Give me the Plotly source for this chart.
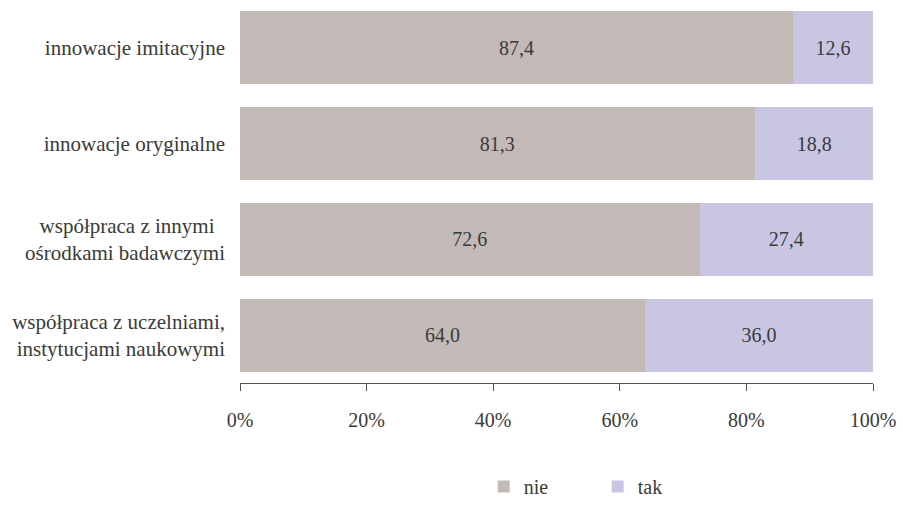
import plotly.graph_objects as go

categories = [
    "współpraca z uczelniami,<br>instytucjami naukowymi",
    "współpraca z innymi\u00a0\u00a0<br>ośrodkami badawczymi",
    "innowacje oryginalne",
    "innowacje imitacyjne",
]
nie_values = [64.0, 72.6, 81.3, 87.4]
tak_values = [36.0, 27.4, 18.8, 12.6]
tick_values = [0, 20, 40, 60, 80, 100]
tick_labels = ["0%", "20%", "40%", "60%", "80%", "100%"]

FONT = "Liberation Serif"
CAT_SIZE = 21
NUM_SIZE = 20
TEXT = "#3a3a3a"


def fmt(v):
    return f"{v:.1f}".replace(".", ",")


fig = go.Figure()
fig.add_trace(go.Bar(
    name="nie", y=categories, x=nie_values, orientation="h",
    marker=dict(color="#C3B9B6", line=dict(width=0)),
    text=[fmt(v) for v in nie_values], textposition="inside",
    insidetextanchor="middle", textfont=dict(family=FONT, size=NUM_SIZE, color=TEXT),
    hoverinfo="skip",
))
fig.add_trace(go.Bar(
    name="tak", y=categories, x=tak_values, orientation="h",
    marker=dict(color="#C8C6E3", line=dict(width=0)),
    text=[fmt(v) for v in tak_values], textposition="inside",
    insidetextanchor="middle", textfont=dict(family=FONT, size=NUM_SIZE, color=TEXT),
    hoverinfo="skip",
))

fig.update_layout(
    width=903, height=506,
    barmode="stack", bargap=0.238,
    margin=dict(l=240, r=30, t=0, b=123),
    paper_bgcolor="white", plot_bgcolor="white",
    font=dict(family=FONT, size=CAT_SIZE, color=TEXT),
    uniformtext=dict(mode="show", minsize=NUM_SIZE),
    showlegend=True,
    legend=dict(
        orientation="h", x=0.385, xanchor="left",
        yref="container", y=-0.012, yanchor="bottom",
        font=dict(family=FONT, size=NUM_SIZE, color=TEXT),
        entrywidth=69, entrywidthmode="pixels", itemwidth=30,
        tracegroupgap=0, traceorder="normal",
    ),
    xaxis=dict(
        range=[0, 100], tickvals=tick_values, ticktext=tick_labels,
        showgrid=False, zeroline=False, showline=True,
        linecolor="#555555", linewidth=1,
        ticks="outside", ticklen=7, tickcolor="#555555",
        ticklabelstandoff=12, automargin=False,
        tickfont=dict(family=FONT, size=NUM_SIZE, color=TEXT),
        fixedrange=True,
    ),
    yaxis=dict(
        showgrid=False, zeroline=False, showline=False, ticks="",
        ticklabelstandoff=14, automargin=False,
        tickfont=dict(family=FONT, size=CAT_SIZE, color=TEXT),
        fixedrange=True,
    ),
)

fig.write_html("out.html")
